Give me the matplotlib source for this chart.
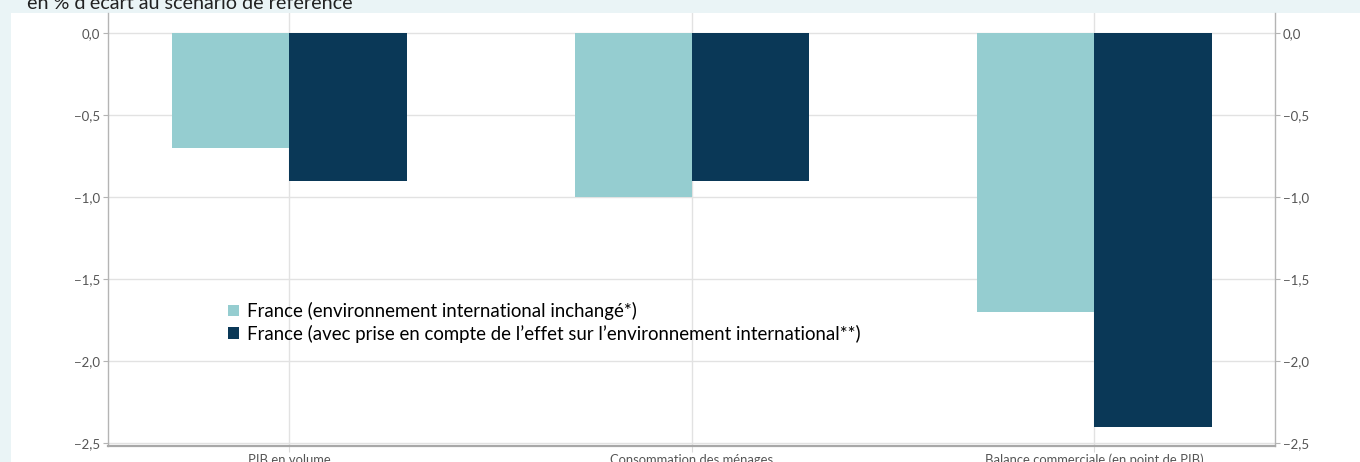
import matplotlib.pyplot as plt
from matplotlib.patches import Rectangle

plt.rcParams['font.family'] = ['Lato', 'DejaVu Sans']

categories = ["PIB en volume", "Consommation des ménages", "Balance commerciale (en point de PIB)"]
serie_inchange = [-0.7, -1.0, -1.7]
serie_effet = [-0.9, -0.9, -2.4]
noms = ["France (environnement international inchangé*)",
        "France (avec prise en compte de l\u2019effet sur l\u2019environnement international**)"]
yticks = [0.0, -0.5, -1.0, -1.5, -2.0, -2.5]

clair = '#95cdd0'
fonce = '#0a3857'

fig = plt.figure(figsize=(13.6, 4.62), dpi=100)
fig.patch.set_facecolor('#eaf4f6')
fig.patches.append(Rectangle((11 / 1360, 0), 1, (462 - 13) / 462, transform=fig.transFigure,
                             facecolor='white', edgecolor='none', zorder=-5))

ax = fig.add_axes([108 / 1360, 16 / 462, (1275 - 108) / 1360, (446 - 13) / 462])
ax.set_zorder(1)
ax.set_facecolor('white')

x = list(range(len(categories)))
b1 = ax.bar([i - 0.29 for i in x], serie_inchange, width=0.29, align='edge', color=clair, zorder=2)
b2 = ax.bar(x, serie_effet, width=0.293, align='edge', color=fonce, zorder=2)

ax.set_xlim(-0.45, 2.45)
ax.set_ylim(-2.518, 0.122)
ax.set_xticks(x)
ax.set_xticklabels(categories)
ax.set_yticks(yticks)
ax.set_yticklabels([f"{v:.1f}".replace('.', ',').replace('-', '\u2212') for v in yticks])

ax.grid(True, color='#e2e2e2', linewidth=1, zorder=0)
ax.set_axisbelow(True)

for s in ['left', 'right']:
    ax.spines[s].set_color('#b4b4b4')
    ax.spines[s].set_linewidth(1)
ax.spines['top'].set_visible(False)
ax.spines['bottom'].set_color('#a8a8a8')
ax.spines['bottom'].set_linewidth(1.6)

ax.tick_params(axis='y', left=True, right=True, labelleft=True, labelright=True,
               length=3.6, width=0.8, color='#b4b4b4', pad=2, labelsize=9.5, labelcolor='#555555')
ax.tick_params(axis='x', length=4, width=0.8, color='#dcdcdc', pad=1.5, labelsize=9.4, labelcolor='#555555')

ax.legend([b1, b2], noms, loc='upper left', bbox_to_anchor=(228 / 1360, 1 - 302 / 462),
          bbox_transform=fig.transFigure, frameon=False, fontsize=13.4,
          handlelength=0.6, handleheight=0.6, handletextpad=0.4, labelspacing=0.25,
          borderpad=0, borderaxespad=0)

fig.text(27 / 1360, 1 - 9 / 462, "en % d\u2019écart au scénario de référence",
         fontsize=14.2, color='#222222', va='baseline', ha='left')

fig.savefig('out.png', dpi=100, facecolor=fig.get_facecolor())
